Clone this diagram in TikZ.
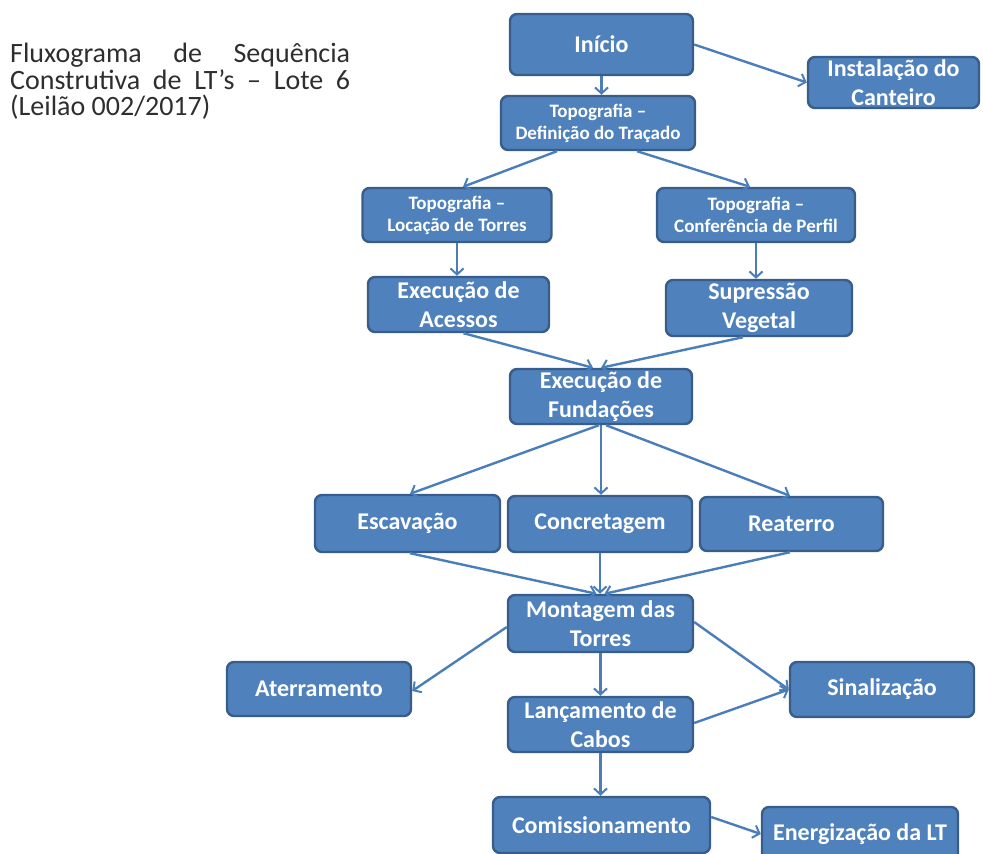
\documentclass[tikz,border=0pt]{standalone}
\usepackage{fontspec}
\setmainfont{Carlito}
\usetikzlibrary{arrows.meta}
\definecolor{boxfill}{HTML}{4F81BD}
\definecolor{boxline}{HTML}{385D8A}
\definecolor{arrowcol}{HTML}{4A7EBB}
\definecolor{titlegray}{HTML}{2E2E2E}
\tikzset{
  box/.style={draw=boxline, fill=boxfill, line width=2.4pt, rounded corners=7pt,
    inner sep=0pt, align=center, text=white,
    font={\fontsize{24}{28.5}\selectfont\bfseries}},
  smallbox/.style={box, font={\fontsize{19}{22}\selectfont\bfseries}},
  arr/.style={draw=arrowcol, line width=2.4pt,
    -{Straight Barb[length=6pt,width=13pt,line width=2pt]}}
}
\begin{document}
\begin{tikzpicture}[x=1pt,y=-1pt]
\useasboundingbox (0,0) rectangle (983,854);

\node[anchor=north west, inner sep=0pt, align=left, text=titlegray,
  font={\fontsize{28}{26.5}\selectfont}] (title) at (10,43)
  {\makebox[340pt][s]{Fluxograma de Sequência}\\
   \makebox[340pt][s]{Construtiva de LT’s – Lote 6}\\
   (Leilão 002/2017)};

\node[box, minimum width=183pt, minimum height=61pt] (ini) at (601.5,44.5) {Início};
\node[box, minimum width=171pt, minimum height=51pt] (inst) at (893.5,82.5) {Instalação do\\Canteiro};
\node[smallbox, minimum width=194pt, minimum height=54pt] (def) at (598,123) {Topografia –\\Definição do Traçado};
\node[smallbox, minimum width=189pt, minimum height=54pt] (loc) at (457,215) {Topografia –\\Locação de Torres};
\node[smallbox, minimum width=198pt, minimum height=54pt] (conf) at (756,215) {Topografia –\\Conferência de Perfil};
\node[box, minimum width=181pt, minimum height=55pt] (aces) at (458.5,304.5) {Execução de\\Acessos};
\node[box, minimum width=186pt, minimum height=56pt] (sup) at (759,308) {Supressão\\Vegetal};
\node[box, minimum width=182pt, minimum height=55pt] (fund) at (601,396.5) {Execução de\\Fundações};
\node[box, minimum width=185pt, minimum height=57pt] (esc) at (407.5,523.5) {Escavação};
\node[box, minimum width=184pt, minimum height=56pt] (conc) at (600,524) {Concretagem};
\node[box, minimum width=183pt, minimum height=54pt] (rea) at (791.5,524) {Reaterro};
\node[box, minimum width=185pt, minimum height=57pt] (mont) at (600.5,623.5) {Montagem das\\Torres};
\node[box, minimum width=184pt, minimum height=54pt] (ater) at (319,689) {Aterramento};
\node[box, minimum width=184pt, minimum height=55pt] (sin) at (882,689.5) {Sinalização};
\node[box, minimum width=185pt, minimum height=55pt] (lanc) at (600.5,724.5) {Lançamento de\\Cabos};
\node[box, minimum width=217pt, minimum height=56pt] (com) at (601.5,825) {Comissionamento};
\node[box, minimum width=196pt, minimum height=54pt] (ene) at (860,834) {Energização da LT};

\draw[arr] (ini.south) -- (ini.south |- def.north);
\draw[arr] (ini.east) -- (inst.west);
\draw[arr] ([xshift=-41pt]def.south) -- ([xshift=6pt]loc.north);
\draw[arr] ([xshift=39pt]def.south) -- ([xshift=-6pt]conf.north);
\draw[arr] (loc.south) -- (loc.south |- aces.north);
\draw[arr] (conf.south) -- (conf.south |- sup.north);
\draw[arr] ([xshift=5pt]aces.south) -- ([xshift=-8pt]fund.north);
\draw[arr] ([xshift=-16pt]sup.south) -- ([xshift=0pt]fund.north);
\draw[arr] ([xshift=-2pt]fund.south) -- ([xshift=2.5pt]esc.north);
\draw[arr] (fund.south) -- (fund.south |- conc.north);
\draw[arr] ([xshift=5pt]fund.south) -- ([xshift=-1.5pt]rea.north);
\draw[arr] ([xshift=2.5pt]esc.south) -- ([xshift=-4pt]mont.north);
\draw[arr] (conc.south) -- (conc.south |- mont.north);
\draw[arr] ([xshift=-1.5pt]rea.south) -- ([xshift=4pt]mont.north);
\draw[arr] ([yshift=-3.5pt]mont.west) -- ([yshift=-2pt]ater.east);
\draw[arr] ([yshift=1.5pt]mont.east) -- (sin.west);
\draw[arr] (mont.south) -- (mont.south |- lanc.north);
\draw[arr] ([yshift=1.5pt]lanc.east) -- (sin.west);
\draw[arr] (lanc.south) -- (lanc.south |- com.north);
\draw[arr] ([yshift=8pt]com.east) -- (ene.west);
\end{tikzpicture}
\end{document}
